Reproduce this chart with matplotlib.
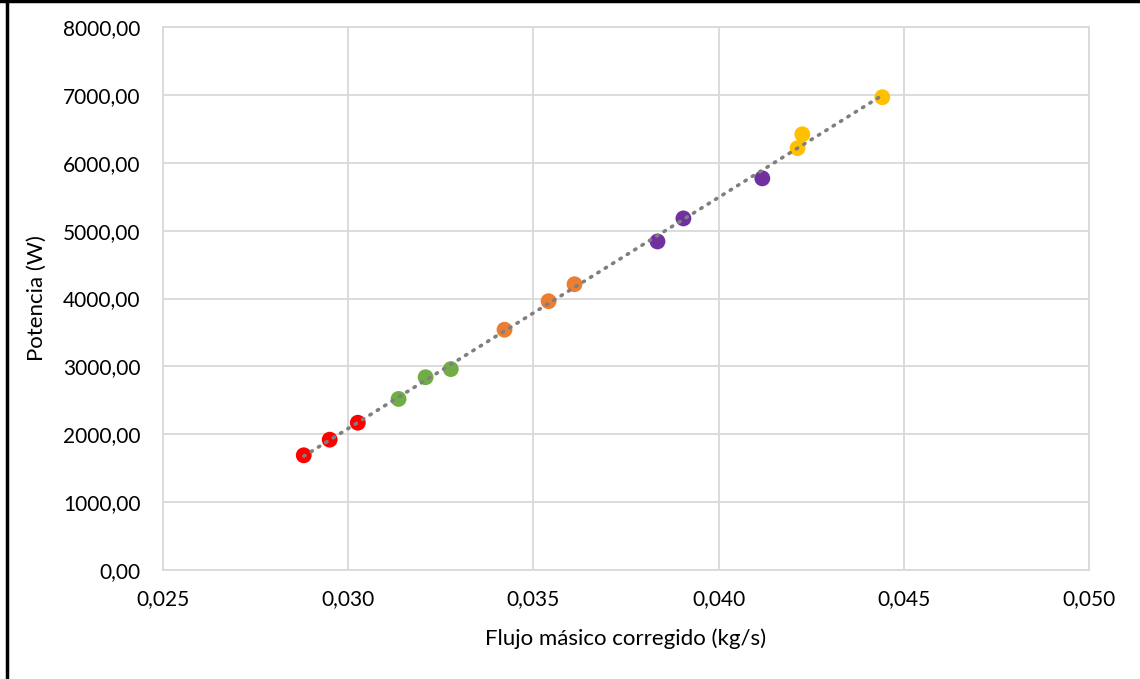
import numpy as np
import matplotlib
matplotlib.use("Agg")
import matplotlib.pyplot as plt
from matplotlib.ticker import FuncFormatter, MultipleLocator
from matplotlib.lines import Line2D

# flujo masico corregido (kg/s) y potencia (W), por grupo de color
flujo_rojo = [0.02880, 0.02950, 0.03026]
pot_rojo = [1690, 1920, 2170]
flujo_verde = [0.03136, 0.03209, 0.03277]
pot_verde = [2520, 2840, 2960]
flujo_naranja = [0.03422, 0.03541, 0.03611]
pot_naranja = [3540, 3960, 4210]
flujo_morado = [0.03835, 0.03905, 0.04118]
pot_morado = [4840, 5180, 5770]
flujo_amarillo = [0.04213, 0.04226, 0.04442]
pot_amarillo = [6215, 6420, 6965]

grupos = [
    (flujo_rojo, pot_rojo, "#FF0000"),
    (flujo_verde, pot_verde, "#70AD47"),
    (flujo_naranja, pot_naranja, "#ED7D31"),
    (flujo_morado, pot_morado, "#7030A0"),
    (flujo_amarillo, pot_amarillo, "#FFC000"),
]

plt.rcParams['font.family'] = ['Lato', 'DejaVu Sans']

fig = plt.figure(figsize=(11.4, 6.79), dpi=100)
ax = fig.add_axes([163 / 1140, 1 - 570 / 679, (1089 - 163) / 1140, (570 - 27) / 679])

for xs, ys, c in grupos:
    ax.scatter(xs, ys, s=130, color=c, edgecolors='none', zorder=3)

# linea de tendencia lineal
todos_x = np.concatenate([g[0] for g in grupos])
todos_y = np.concatenate([g[1] for g in grupos])
m, b = np.polyfit(todos_x, todos_y, 1)
xt = np.array([todos_x.min(), todos_x.max()])
ax.plot(xt, m * xt + b, color='#7F7F7F', linewidth=2.6, linestyle=(0, (0.4, 2.0)),
        dash_capstyle='round', zorder=4)

ax.set_xlim(0.025, 0.050)
ax.set_ylim(0, 8000)
ax.xaxis.set_major_locator(MultipleLocator(0.005))
ax.yaxis.set_major_locator(MultipleLocator(1000))
ax.xaxis.set_major_formatter(FuncFormatter(lambda v, p: f"{v:.3f}".replace('.', ',')))
ax.yaxis.set_major_formatter(FuncFormatter(lambda v, p: f"{v:.2f}".replace('.', ',')))

ax.grid(True, color='#D9D9D9', linewidth=1.3, zorder=0)
ax.set_axisbelow(True)
for s in ax.spines.values():
    s.set_color('#D9D9D9')
    s.set_linewidth(1.3)
ax.tick_params(length=0, labelsize=15, colors='black')
ax.tick_params(axis='y', pad=16)
ax.tick_params(axis='x', pad=14)

ax.set_xlabel("Flujo másico corregido (kg/s)", fontsize=16, labelpad=14)
ax.set_ylabel("Potencia (W)", fontsize=16, labelpad=12)

# borde exterior (izquierda y arriba)
fig.add_artist(Line2D([6.5 / 1140, 6.5 / 1140], [0, 1], color='black', linewidth=2.5,
                      transform=fig.transFigure))
fig.add_artist(Line2D([0, 1], [1 - 1 / 679, 1 - 1 / 679], color='black', linewidth=2.5,
                      transform=fig.transFigure))

fig.savefig("out.png", dpi=100)
